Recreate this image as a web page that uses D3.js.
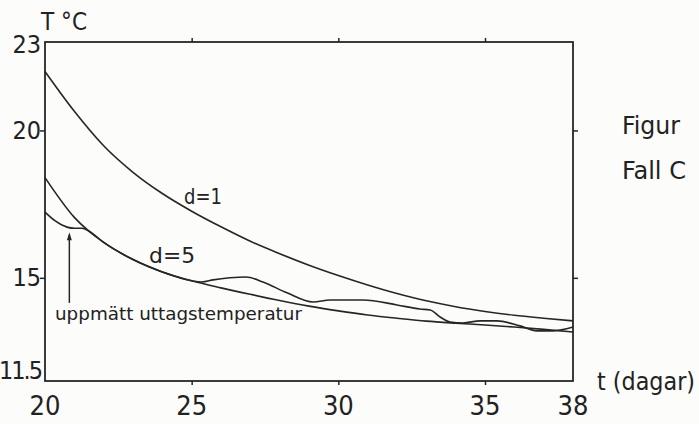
<!DOCTYPE html>
<html>
<head>
<meta charset="utf-8">
<script src="https://cdn.jsdelivr.net/npm/d3@7"></script>
<style>
  body { margin: 0; background: #fcfcfb; }
  text { font-family: "DejaVu Sans Condensed", "DejaVu Sans", sans-serif; fill: #222; }
</style>
</head>
<body>
<div id="chart"></div>
<script>
// days on the x axis (t, dagar)
const days = [20, 21, 22, 23, 24, 25, 26, 27, 28, 29, 30, 31, 32, 33, 34, 35, 36, 37, 38];
// computed outlet temperature, d=1
const tempD1 = [22.0, 20.65, 19.48, 18.58, 17.86, 17.26, 16.73, 16.24, 15.82, 15.43, 15.08, 14.76, 14.47, 14.22, 14.02, 13.86, 13.73, 13.63, 13.54];
// computed outlet temperature, d=5
const tempD5 = [18.4, 17.05, 16.2, 15.62, 15.2, 14.9, 14.66, 14.44, 14.23, 14.04, 13.88, 13.74, 13.63, 13.53, 13.46, 13.4, 13.33, 13.25, 13.16];
// measured outlet temperature (uppmätt uttagstemperatur)
const measDays = [20, 20.35, 20.75, 21.0, 21.26, 21.5, 22, 23, 24, 25, 25.35, 25.73, 26.3, 26.85, 27.43, 28.25, 29.14, 29.72, 30.84, 32.0, 32.78, 33.13, 33.47, 33.81, 34.25, 34.83, 35.41, 36.19, 36.77, 37.32, 38];
const measTemp = [17.23, 16.93, 16.72, 16.68, 16.68, 16.58, 16.2, 15.62, 15.2, 14.9, 14.86, 14.93, 15.0, 15.03, 14.86, 14.49, 14.18, 14.25, 14.25, 14.08, 13.94, 13.91, 13.67, 13.5, 13.47, 13.54, 13.54, 13.37, 13.2, 13.2, 13.33];

const xTicks = [20, 25, 30, 35, 38];
const yTicks = [23, 20, 15, 11.5];

const width = 699, height = 424;
const margin = { top: 42, right: 126, bottom: 43, left: 45 };

const svg = d3.select("#chart")
  .append("svg")
  .attr("width", width)
  .attr("height", height);

const x = d3.scaleLinear()
  .domain([20, 38])
  .range([margin.left, width - margin.right]);

const y = d3.scaleLinear()
  .domain([11.5, 23])
  .range([height - margin.bottom, margin.top]);

const ink = "#262626";

// frame
svg.append("rect")
  .attr("x", x(20))
  .attr("y", y(23))
  .attr("width", x(38) - x(20))
  .attr("height", y(11.5) - y(23))
  .attr("fill", "none")
  .attr("stroke", ink)
  .attr("stroke-width", 1.8);

// small tick marks pointing outward
const innerX = xTicks.filter(d => d > 20 && d < 38);
const innerY = yTicks.filter(d => d > 11.5 && d < 23);

svg.append("g")
  .attr("transform", `translate(0,${y(11.5)})`)
  .call(d3.axisBottom(x).tickValues(innerX).tickSize(4).tickFormat(""))
  .call(g => g.select(".domain").remove());
svg.append("g")
  .attr("transform", `translate(0,${y(23)})`)
  .call(d3.axisTop(x).tickValues(innerX).tickSize(4).tickFormat(""))
  .call(g => g.select(".domain").remove());
svg.append("g")
  .attr("transform", `translate(${x(20)},0)`)
  .call(d3.axisLeft(y).tickValues(innerY).tickSize(5).tickFormat(""))
  .call(g => g.select(".domain").remove());
svg.append("g")
  .attr("transform", `translate(${x(38)},0)`)
  .call(d3.axisRight(y).tickValues(innerY).tickSize(5).tickFormat(""))
  .call(g => g.select(".domain").remove());
svg.selectAll(".tick line").attr("stroke", ink).attr("stroke-width", 1.5);

// tick labels
svg.selectAll(".xlab")
  .data(xTicks)
  .enter()
  .append("text")
  .attr("class", "xlab")
  .attr("x", d => x(d))
  .attr("y", y(11.5) + 34)
  .attr("text-anchor", "middle")
  .attr("font-size", 27)
  .text(d => d);

const yOff = { 23: 11, 20: 9, 15: 8, 11.5: -2 };
svg.selectAll(".ylab")
  .data(yTicks)
  .enter()
  .append("text")
  .attr("class", "ylab")
  .attr("x", x(20) - 4)
  .attr("y", d => y(d) + yOff[d])
  .attr("text-anchor", "end")
  .attr("font-size", 25)
  .attr("letter-spacing", d => d === 11.5 ? -2 : 0)
  .text(d => d);

// axis titles
svg.append("text")
  .attr("x", x(20) - 4)
  .attr("y", 30)
  .attr("font-size", 24)
  .attr("textLength", 46)
  .attr("lengthAdjust", "spacingAndGlyphs")
  .text("T °C");

svg.append("text")
  .attr("x", x(38) + 24)
  .attr("y", y(11.5) + 9)
  .attr("font-size", 24)
  .attr("textLength", 98)
  .attr("lengthAdjust", "spacingAndGlyphs")
  .text("t (dagar)");

svg.append("text")
  .attr("x", 622)
  .attr("y", 134)
  .attr("font-size", 25)
  .attr("textLength", 58)
  .attr("lengthAdjust", "spacingAndGlyphs")
  .text("Figur");

svg.append("text")
  .attr("x", 622)
  .attr("y", 179)
  .attr("font-size", 25)
  .attr("textLength", 64)
  .attr("lengthAdjust", "spacingAndGlyphs")
  .text("Fall C");

// curves
const line = d3.line()
  .x(d => x(d[0]))
  .y(d => y(d[1]))
  .curve(d3.curveMonotoneX);

const series = [
  days.map((d, i) => [d, tempD1[i]]),
  days.map((d, i) => [d, tempD5[i]]),
  measDays.map((d, i) => [d, measTemp[i]])
];

svg.selectAll(".curve")
  .data(series)
  .enter()
  .append("path")
  .attr("class", "curve")
  .attr("d", line)
  .attr("fill", "none")
  .attr("stroke", ink)
  .attr("stroke-width", 1.6);

// curve labels
svg.append("text")
  .attr("x", x(24.74))
  .attr("y", y(17.5))
  .attr("font-size", 21)
  .attr("textLength", 38)
  .attr("lengthAdjust", "spacingAndGlyphs")
  .text("d=1");

svg.append("text")
  .attr("x", x(23.55))
  .attr("y", y(15.5))
  .attr("font-size", 21)
  .attr("textLength", 46)
  .attr("lengthAdjust", "spacingAndGlyphs")
  .text("d=5");

// arrow to the measured curve
svg.append("line")
  .attr("x1", x(20.83)).attr("x2", x(20.83))
  .attr("y1", y(16.45)).attr("y2", y(14.15))
  .attr("stroke", ink)
  .attr("stroke-width", 1.5);
svg.append("path")
  .attr("d", `M${x(20.83)},${y(16.55)} l-2.5,8 l5,0 z`)
  .attr("fill", ink);

svg.append("text")
  .attr("x", x(20.34))
  .attr("y", y(13.57))
  .attr("font-size", 18)
  .attr("textLength", 247)
  .attr("lengthAdjust", "spacingAndGlyphs")
  .text("uppmätt uttagstemperatur");
</script>
</body>
</html>
